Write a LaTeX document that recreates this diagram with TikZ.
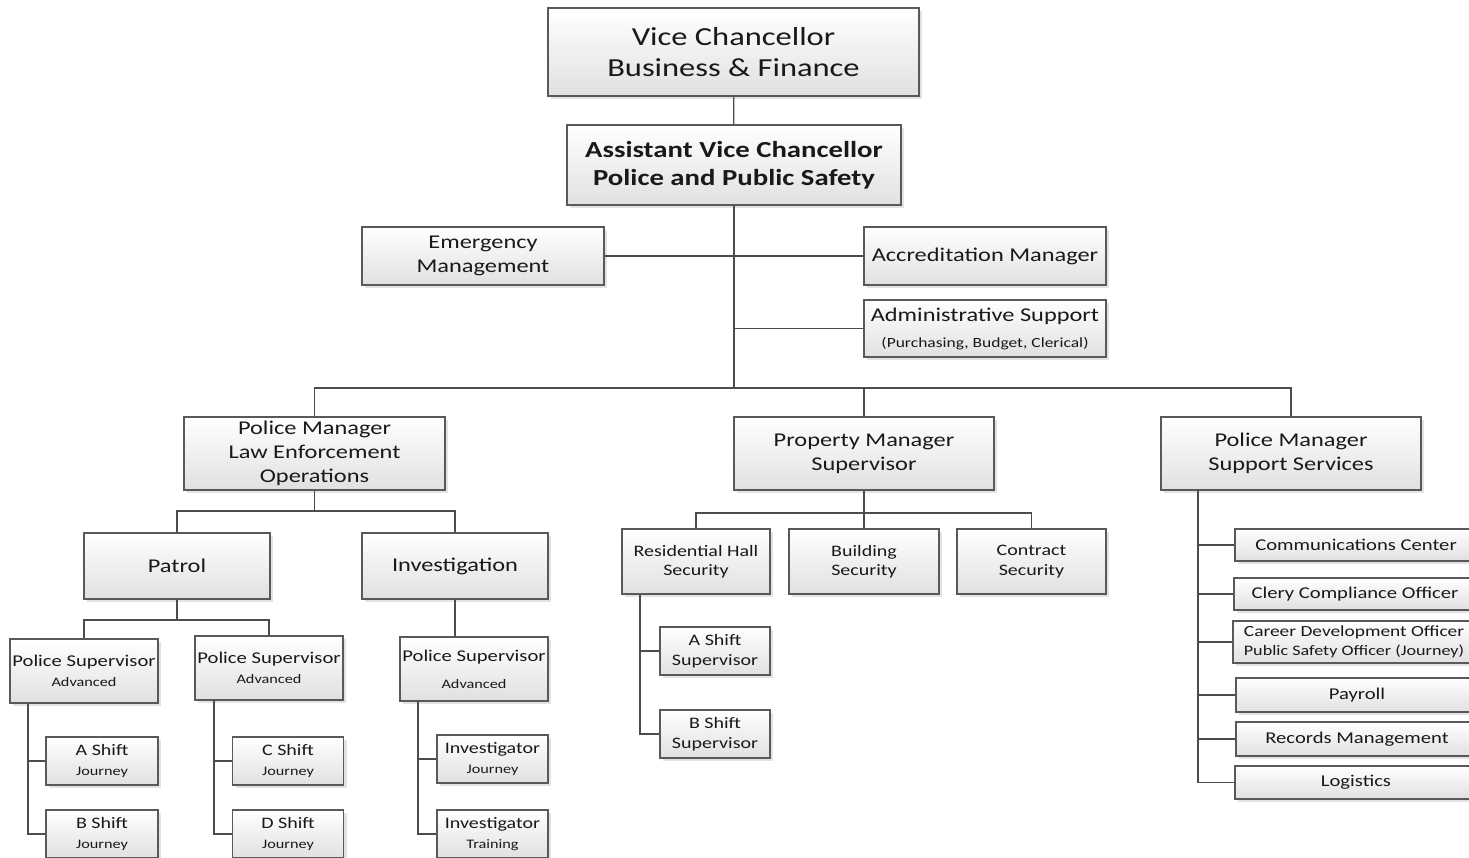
\documentclass[tikz,border=0pt]{standalone}
\usepackage{fontspec}
\setmainfont{Carlito}[FakeStretch=1.25]
\usetikzlibrary{shadows}

\begin{document}
\begin{tikzpicture}[x=1pt, y=-1pt, line width=1.3pt, draw=black!70,
	box/.style={draw=black!65, line width=1.2pt, top color=white, bottom color=black!12,
		drop shadow={shadow xshift=3pt, shadow yshift=-3pt, fill=black!22},
		align=center, inner sep=0pt, text=black!90},
	txtXL/.style={font=\fontsize{26}{31}\selectfont},
	txtL/.style={font=\fontsize{19.5}{24}\selectfont},
	txtM/.style={font=\fontsize{16.5}{20}\selectfont},
	txtS/.style={font=\fontsize{16}{19.5}\selectfont}]
	\useasboundingbox (0,0) rectangle (1469,858);
	% top of the chart
	\node (vc)    at (733.5, 52)	[box, txtXL, minimum width=371pt, minimum height=88pt]	{Vice Chancellor\\Business \& Finance};
	\node (avc)   at (734, 165)	[box, minimum width=334pt, minimum height=80pt, font=\fontsize{23}{28}\selectfont\bfseries]	{Assistant Vice Chancellor\\Police and Public Safety};
	\node (em)    at (483, 256)	[box, txtL, minimum width=242pt, minimum height=58pt]	{Emergency\\Management};
	\node (accm)  at (985, 256)	[box, txtL, minimum width=242pt, minimum height=58pt]	{Accreditation Manager};
	\node (admin) at (985, 328.5)	[box, txtL, minimum width=242pt, minimum height=57pt]	{Administrative Support\\[2pt]{\fontsize{14}{17}\selectfont (Purchasing, Budget, Clerical)}};
	% managers
	\node (leo)   at (314.5, 453.5)	[box, txtL, minimum width=261pt, minimum height=73pt]	{Police Manager\\Law Enforcement\\Operations};
	\node (prop)  at (864, 453.5)	[box, txtL, minimum width=260pt, minimum height=73pt]	{Property Manager\\Supervisor};
	\node (pss)   at (1291, 453.5)	[box, txtL, minimum width=260pt, minimum height=73pt]	{Police Manager\\Support Services};
	% law enforcement
	\node (patrol) at (177, 566)	[box, txtL, minimum width=186pt, minimum height=66pt]	{Patrol};
	\node (inv)    at (455, 566)	[box, txtL, minimum width=186pt, minimum height=66pt]	{Investigation};
	\node (ps1) at (84, 671)	[box, txtM, minimum width=148pt, minimum height=64pt]	{Police Supervisor\\{\fontsize{13}{15}\selectfont Advanced}};
	\node (ps2) at (269, 668)	[box, txtM, minimum width=148pt, minimum height=64pt]	{Police Supervisor\\{\fontsize{13}{15}\selectfont Advanced}};
	\node (ps3) at (474, 669)	[box, txtM, minimum width=148pt, minimum height=64pt]	{Police Supervisor\\[7pt]{\fontsize{13}{15}\selectfont Advanced}};
	\node (ash) at (102, 761)	[box, txtS, minimum width=112pt, minimum height=48pt]	{A Shift\\{\fontsize{13}{15}\selectfont Journey}};
	\node (bsh) at (102, 834)	[box, txtS, minimum width=112pt, minimum height=48pt]	{B Shift\\{\fontsize{13}{15}\selectfont Journey}};
	\node (csh) at (288, 761)	[box, txtS, minimum width=111pt, minimum height=48pt]	{C Shift\\{\fontsize{13}{15}\selectfont Journey}};
	\node (dsh) at (288, 834)	[box, txtS, minimum width=111pt, minimum height=48pt]	{D Shift\\{\fontsize{13}{15}\selectfont Journey}};
	\node (ij)  at (492.5, 759)	[box, txtS, minimum width=111pt, minimum height=48pt]	{Investigator\\{\fontsize{13}{15}\selectfont Journey}};
	\node (it)  at (492.5, 834)	[box, txtS, minimum width=111pt, minimum height=48pt]	{Investigator\\{\fontsize{13}{15}\selectfont Training}};
	% property
	\node (res)  at (696, 561.5)	[box, txtS, minimum width=148pt, minimum height=65pt]	{Residential Hall\\Security};
	\node (bldg) at (864, 561.5)	[box, txtS, minimum width=150pt, minimum height=65pt]	{Building\\Security};
	\node (con)  at (1031.5, 561.5)	[box, txtS, minimum width=149pt, minimum height=65pt]	{Contract\\Security};
	\node (asup) at (715, 651)	[box, txtS, minimum width=110pt, minimum height=48pt]	{A Shift\\Supervisor};
	\node (bsup) at (715, 734)	[box, txtS, minimum width=110pt, minimum height=48pt]	{B Shift\\Supervisor};
	% support services
	\node (comm) at (1356, 545)	[box, txtM, minimum width=242pt, minimum height=32pt]	{Communications Center};
	\node (clry) at (1355, 594)	[box, txtM, minimum width=242pt, minimum height=32pt]	{Clery Compliance Officer};
	\node (car)  at (1354, 642)	[box, minimum width=242pt, minimum height=42pt, font=\fontsize{15.5}{19}\selectfont]	{Career Development Officer\\{\fontsize{14.5}{17}\selectfont Public Safety Officer (Journey)}};
	\node (pay)  at (1357, 695)	[box, txtM, minimum width=242pt, minimum height=34pt]	{Payroll};
	\node (rec)  at (1357, 739)	[box, txtM, minimum width=242pt, minimum height=34pt]	{Records Management};
	\node (log)  at (1356, 782.5)	[box, txtM, minimum width=242pt, minimum height=33pt]	{Logistics};
	% bus points
	\coordinate (b1) at (734, 388);
	\coordinate (b2) at (314.5, 511);
	\coordinate (b3) at (177, 620);
	\coordinate (b4) at (864, 513);
	\coordinate (t1) at (28, 703);
	\coordinate (t2) at (214, 700);
	\coordinate (t3) at (418, 701);
	\coordinate (t4) at (640, 594);
	\coordinate (t5) at (1198, 490);
	% connectors
	\draw (vc) -- (avc);
	\draw (avc) -- (b1);
	\draw (em) -- (accm);
	\draw (avc.south |- admin.west) -- (admin);
	\draw (leo.north) |- (b1) -| (pss.north);
	\draw (b1) -| (prop.north);
	\draw (leo) -- (b2);
	\draw (patrol.north) |- (b2) -| (inv.north);
	\draw (patrol) -- (b3);
	\draw (ps1.north) |- (b3) -| (ps2.north);
	\draw (inv.south) -- (inv.south |- ps3.north);
	\draw (t1) |- (ash.west);
	\draw (t1) |- (bsh.west);
	\draw (t2) |- (csh.west);
	\draw (t2) |- (dsh.west);
	\draw (t3) |- (ij.west);
	\draw (t3) |- (it.west);
	\draw (prop) -- (bldg);
	\draw (res.north) |- (b4) -| (con.north);
	\draw (t4) |- (asup.west);
	\draw (t4) |- (bsup.west);
	\draw (t5) |- (comm.west);
	\draw (t5) |- (clry.west);
	\draw (t5) |- (car.west);
	\draw (t5) |- (pay.west);
	\draw (t5) |- (rec.west);
	\draw (t5) |- (log.west);
\end{tikzpicture}
\end{document}
